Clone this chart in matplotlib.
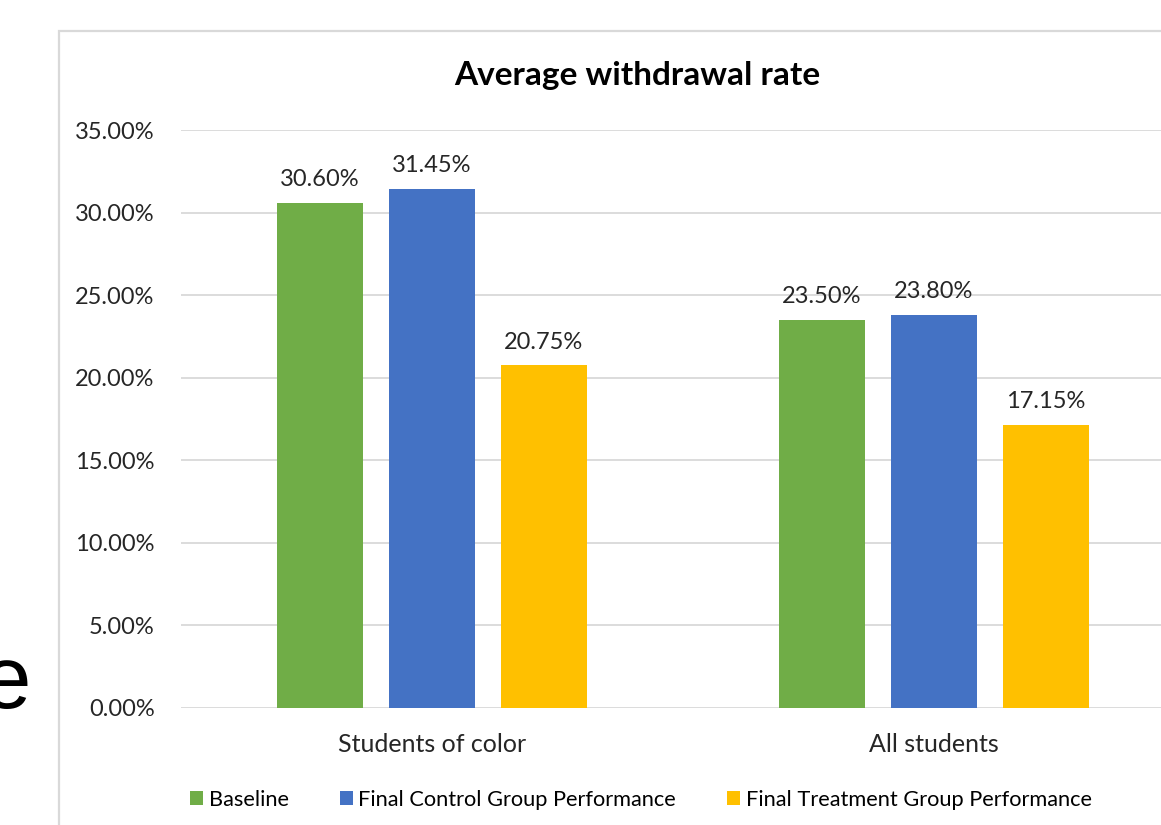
import numpy as np
import matplotlib.pyplot as plt
from matplotlib.patches import Rectangle
from matplotlib.ticker import FuncFormatter

plt.rcParams['font.family'] = ['Lato', 'DejaVu Sans']

# data
categories = ['Students of color', 'All students']
series = ['Baseline', 'Final Control Group Performance', 'Final Treatment Group Performance']
baseline = [30.60, 23.50]
control = [31.45, 23.80]
treatment = [20.75, 17.15]
colors = ['#70AD47', '#4472C4', '#FFC000']

W, H = 1161, 825
fig = plt.figure(figsize=(W / 100, H / 100), dpi=100)

# chart border (cropped screenshot: only left and top visible)
fig.patches.append(Rectangle((59 / W, -0.1), 1.2, 1 - 31 / H + 0.1,
                             transform=fig.transFigure, fill=False,
                             edgecolor='#d9d9d9', linewidth=1.6))

# axes extends past the right edge like the original crop
ax = fig.add_axes([181 / W, 1 - 708 / H, (1185 - 181) / W, (708 - 130) / H])

x = np.arange(len(categories))
w = 0.173
step = 0.223
bars = []
for i, (vals, c, name) in enumerate(zip([baseline, control, treatment], colors, series)):
    b = ax.bar(x + (i - 1) * step, vals, width=w, color=c, label=name, zorder=3)
    bars.append(b)
    for rect, v in zip(b, vals):
        ax.annotate(f'{v:.2f}%', (rect.get_x() + rect.get_width() / 2, v),
                    xytext=(0, 9), textcoords='offset points',
                    ha='center', va='bottom', fontsize=17, color='#262626')

ax.set_xlim(-0.5, 1.5)
ax.set_ylim(0, 35)
ax.set_yticks(np.arange(0, 36, 5))
ax.yaxis.set_major_formatter(FuncFormatter(lambda v, p: f'{v:.2f}%'))
ax.set_xticks(x)
ax.set_xticklabels(categories, fontsize=18)
ax.tick_params(axis='both', length=0, colors='#262626')
ax.tick_params(axis='y', pad=19, labelsize=17)
ax.tick_params(axis='x', pad=18)
ax.grid(axis='y', color='#d9d9d9', linewidth=1.3, zorder=0)
for s in ax.spines.values():
    s.set_visible(False)

fig.text(637 / W, 1 - 75 / H, 'Average withdrawal rate', ha='center', va='center',
         fontsize=24, fontweight='bold', color='#000000')

fig.legend(handles=bars, labels=series, loc='center', ncol=3, frameon=False,
           bbox_to_anchor=(641 / W, 1 - 800 / H), fontsize=15.7,
           handlelength=0.6, handleheight=0.6, handletextpad=0.25, columnspacing=2.35)

# stray letter from the neighbouring slide at the left edge
fig.text(31 / W, 1 - 708 / H, 'e', ha='right', va='baseline', fontsize=64,
         family='Liberation Sans', color='#000000')

fig.savefig('out.png', dpi=100)
